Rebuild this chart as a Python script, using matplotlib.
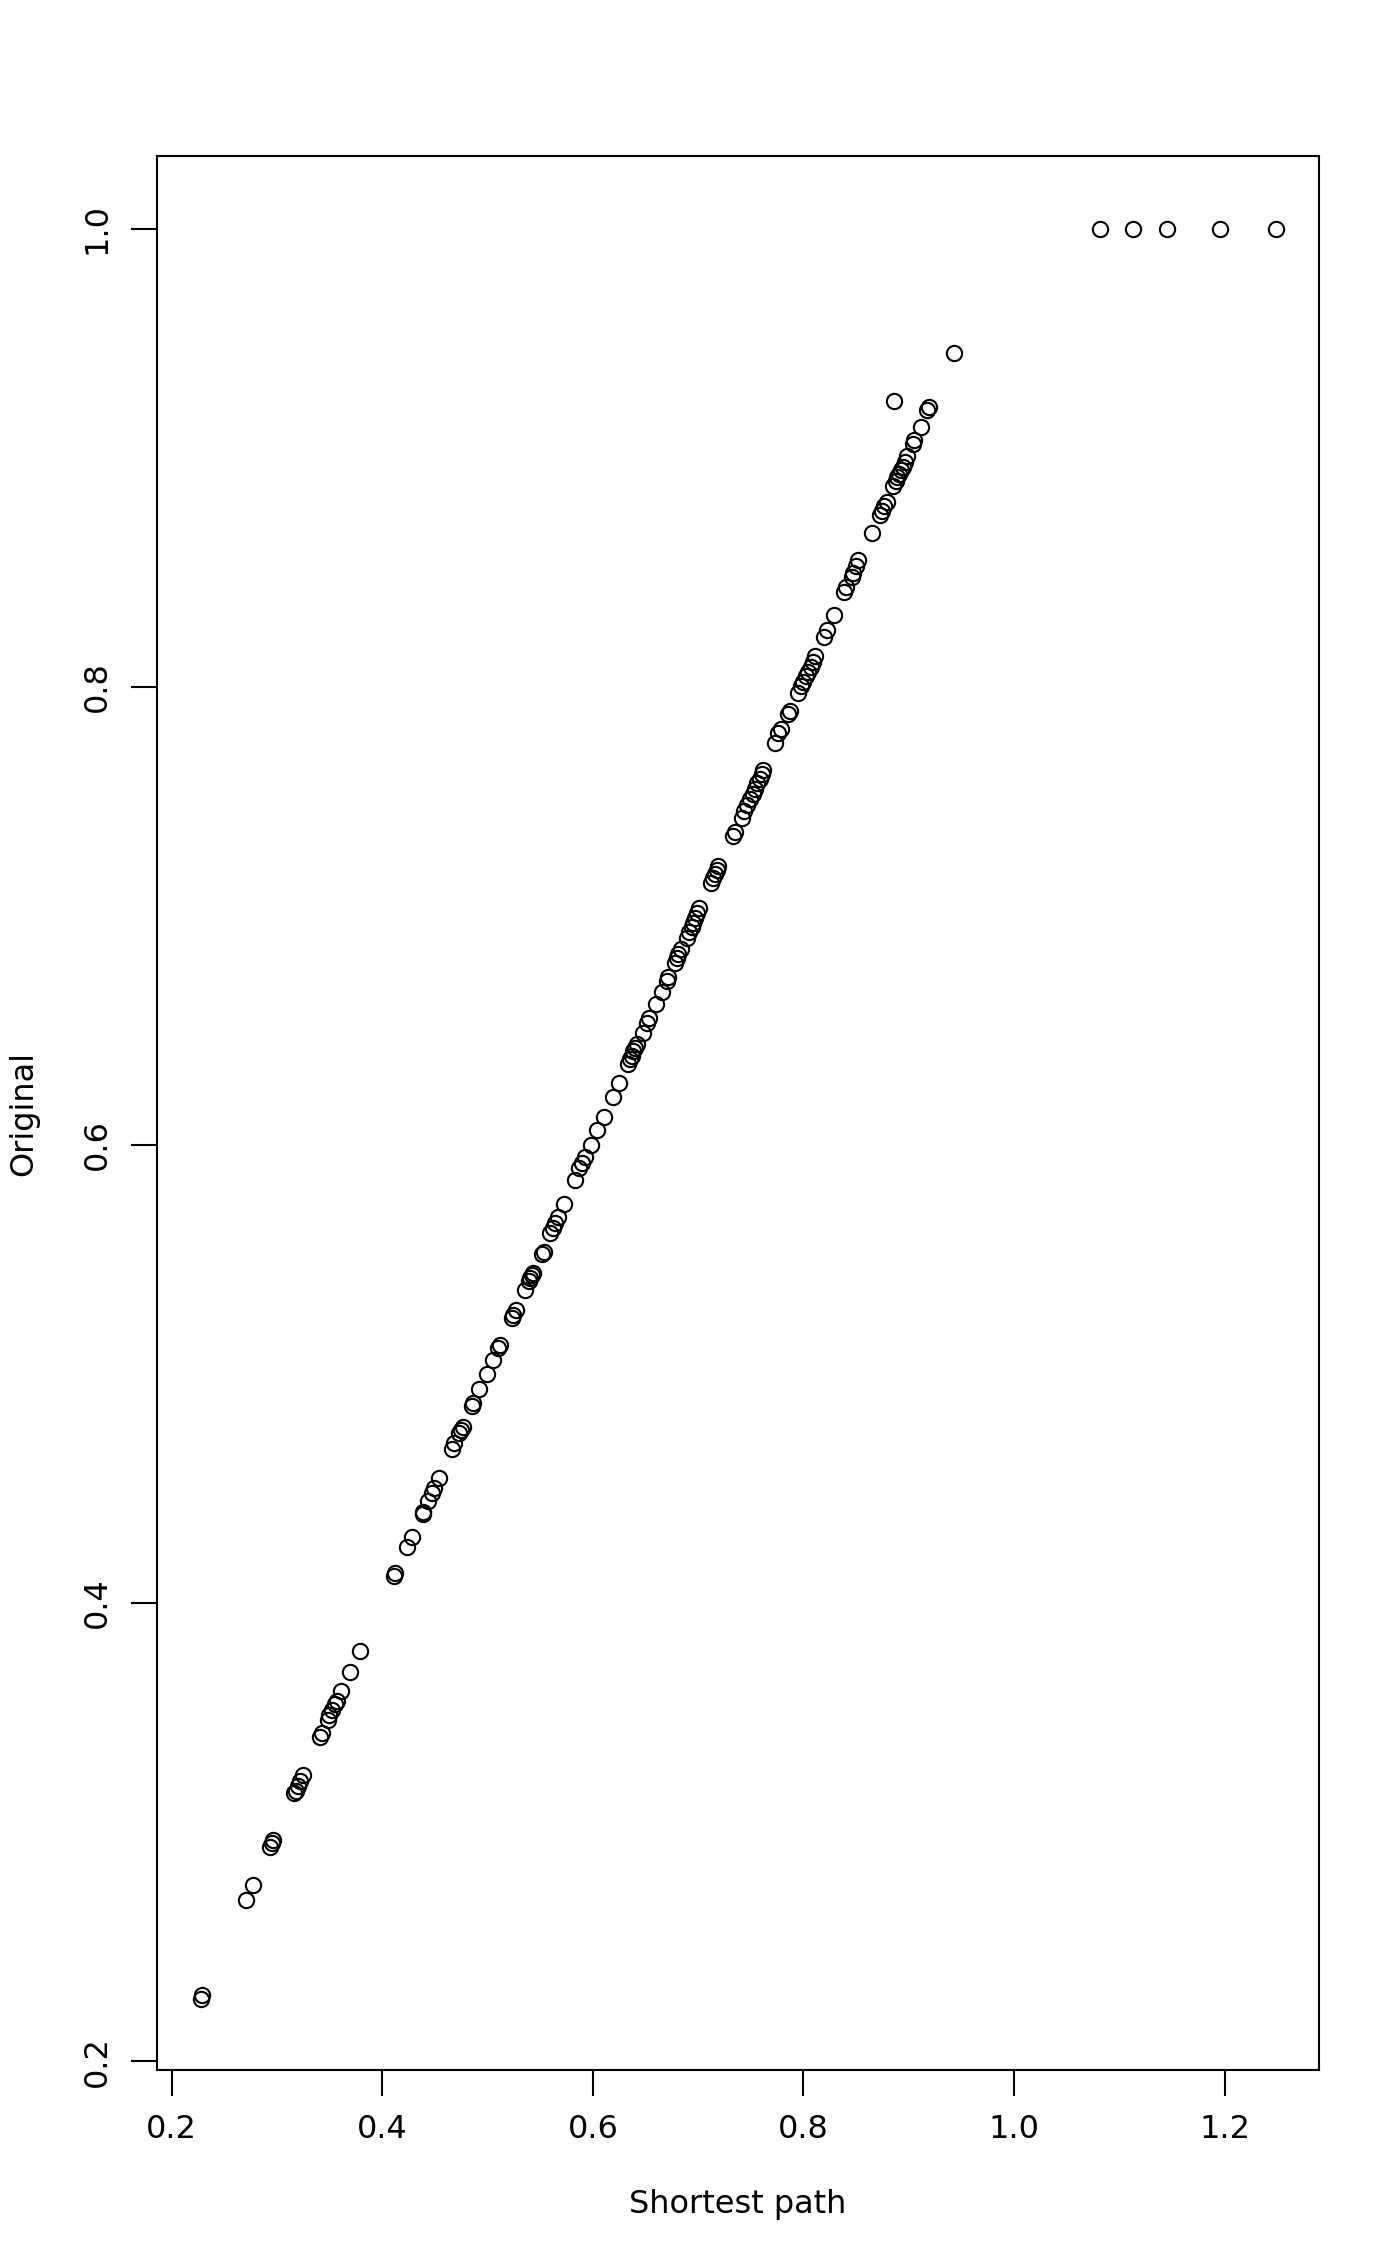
import matplotlib
matplotlib.use("Agg")
import matplotlib.pyplot as plt

# values
shortest_path = [
    0.2275, 0.2285, 0.2706, 0.2769, 0.2934, 0.2950, 0.2965, 0.3165, 0.3177, 0.3196,
    0.3219, 0.3244, 0.3408, 0.3424, 0.3488, 0.3497, 0.3519, 0.3551, 0.3567, 0.3608,
    0.3693, 0.3788, 0.4111, 0.4121, 0.4238, 0.4279, 0.4383, 0.4390, 0.4437, 0.4469,
    0.4491, 0.4542, 0.4659, 0.4681, 0.4731, 0.4744, 0.4763, 0.4849, 0.4864, 0.4921,
    0.4991, 0.5048, 0.5102, 0.5118, 0.5229, 0.5244, 0.5270, 0.5355, 0.5396, 0.5403,
    0.5419, 0.5428, 0.5513, 0.5536, 0.5593, 0.5618, 0.5640, 0.5672, 0.5725, 0.5830,
    0.5871, 0.5893, 0.5925, 0.5979, 0.6042, 0.6105, 0.6194, 0.6251, 0.6336, 0.6352,
    0.6368, 0.6384, 0.6400, 0.6416, 0.6473, 0.6510, 0.6536, 0.6599, 0.6653, 0.6701,
    0.6716, 0.6780, 0.6796, 0.6811, 0.6834, 0.6891, 0.6916, 0.6938, 0.6954, 0.6970,
    0.6992, 0.7011, 0.7118, 0.7137, 0.7160, 0.7175, 0.7191, 0.7334, 0.7350, 0.7413,
    0.7435, 0.7460, 0.7492, 0.7517, 0.7539, 0.7562, 0.7587, 0.7603, 0.7619, 0.7729,
    0.7761, 0.7783, 0.7856, 0.7872, 0.7951, 0.7973, 0.7998, 0.8024, 0.8046, 0.8068,
    0.8087, 0.8109, 0.8195, 0.8226, 0.8290, 0.8385, 0.8404, 0.8457, 0.8473, 0.8499,
    0.8521, 0.8647, 0.8727, 0.8742, 0.8765, 0.8790, 0.8853, 0.8878, 0.8891, 0.8910,
    0.8923, 0.8942, 0.8964, 0.8980, 0.9037, 0.9049, 0.9113, 0.9176, 0.9195, 0.8863,
    0.9429, 1.0816, 1.1126, 1.1449, 1.1955, 1.2487,
]
original = [
    0.2271, 0.2289, 0.2704, 0.2769, 0.2937, 0.2952, 0.2966, 0.3170, 0.3181, 0.3202,
    0.3225, 0.3250, 0.3414, 0.3432, 0.3490, 0.3512, 0.3533, 0.3560, 0.3573, 0.3616,
    0.3698, 0.3793, 0.4118, 0.4130, 0.4246, 0.4287, 0.4389, 0.4399, 0.4447, 0.4482,
    0.4501, 0.4545, 0.4672, 0.4698, 0.4744, 0.4756, 0.4770, 0.4861, 0.4875, 0.4933,
    0.5000, 0.5061, 0.5112, 0.5127, 0.5243, 0.5258, 0.5280, 0.5367, 0.5408, 0.5418,
    0.5432, 0.5443, 0.5524, 0.5534, 0.5614, 0.5636, 0.5661, 0.5687, 0.5742, 0.5847,
    0.5898, 0.5920, 0.5949, 0.6000, 0.6063, 0.6121, 0.6208, 0.6269, 0.6353, 0.6374,
    0.6389, 0.6408, 0.6422, 0.6441, 0.6490, 0.6534, 0.6553, 0.6615, 0.6669, 0.6717,
    0.6735, 0.6793, 0.6815, 0.6833, 0.6854, 0.6902, 0.6931, 0.6953, 0.6970, 0.6989,
    0.7011, 0.7033, 0.7142, 0.7164, 0.7183, 0.7200, 0.7218, 0.7349, 0.7368, 0.7426,
    0.7459, 0.7484, 0.7509, 0.7532, 0.7553, 0.7579, 0.7596, 0.7619, 0.7637, 0.7753,
    0.7797, 0.7814, 0.7881, 0.7896, 0.7974, 0.8001, 0.8022, 0.8047, 0.8066, 0.8088,
    0.8110, 0.8132, 0.8219, 0.8248, 0.8313, 0.8415, 0.8434, 0.8481, 0.8498, 0.8527,
    0.8551, 0.8670, 0.8750, 0.8769, 0.8789, 0.8808, 0.8874, 0.8900, 0.8915, 0.8929,
    0.8944, 0.8961, 0.8983, 0.9005, 0.9060, 0.9078, 0.9133, 0.9206, 0.9220, 0.9248,
    0.9456, 1.0, 1.0, 1.0, 1.0, 1.0,
]
x_ticks = [0.2, 0.4, 0.6, 0.8, 1.0, 1.2]
y_ticks = [0.2, 0.4, 0.6, 0.8, 1.0]

fig = plt.figure(figsize=(14, 22.66), dpi=100)
ax = fig.add_axes([0.1124, 0.0865, 0.8297, 0.8447])

ax.plot(shortest_path, original, linestyle='none', marker='o', markersize=11,
        markerfacecolor='none', markeredgecolor='black', markeredgewidth=1.5)

ax.set_xlim(0.1863, 1.2896)
ax.set_ylim(0.1962, 1.0317)

ax.set_xticks(x_ticks)
ax.set_xticklabels([f"{t:.1f}" for t in x_ticks], fontsize=23)
ax.set_yticks(y_ticks)
ax.set_yticklabels([f"{t:.1f}" for t in y_ticks], fontsize=23, rotation=90, va='center')
ax.tick_params(direction='out', length=19, width=1.5, pad=13)

for s in ax.spines.values():
    s.set_linewidth(1.5)

fig.text(738 / 1400, 1 - 2204 / 2266, "Shortest path", ha='center', va='center', fontsize=23)
fig.text(24 / 1400, 1 - 1113 / 2266, "Original", ha='center', va='center', rotation=90, fontsize=23)

fig.savefig("out.png", dpi=100)
